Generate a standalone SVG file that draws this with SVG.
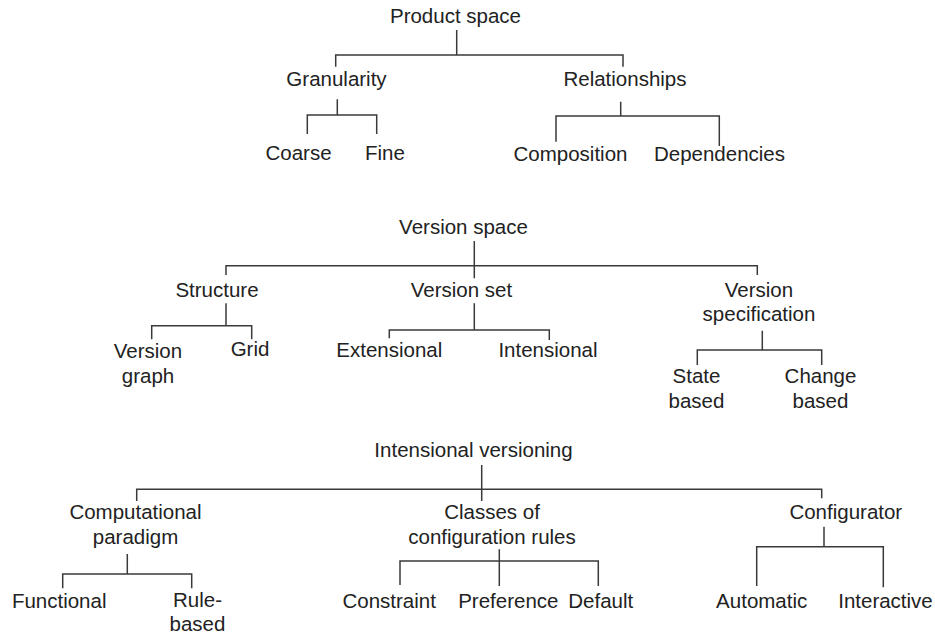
<svg xmlns="http://www.w3.org/2000/svg" width="935" height="634" viewBox="0 0 935 634">
  <style>
    text { font-family: "Liberation Sans", Arial, sans-serif; font-size: 20.5px; fill: #222; text-anchor: middle; }
    .link { fill: none; stroke: #3a3a3a; stroke-width: 1.5; }
  </style>
  <rect width="935" height="634" fill="#fff"/>

  <g id="connectors">
    <!-- Product space tree -->
    <path class="link" d="M456.7,30 V55 M335.7,66.7 V55 H623 V66.7"/>
    <path class="link" d="M337.3,99.3 V115 M307.3,134 V115 H376.7 V134"/>
    <path class="link" d="M620.7,101.7 V116 M556,141.7 V116 H719.3 V146"/>
    <!-- Version space tree -->
    <path class="link" d="M474.3,241 V278.3 M226,275 V265.7 H757.3 V275"/>
    <path class="link" d="M226,303.3 V325.7 M151.7,339.3 V325.7 H251.7 V339.3"/>
    <path class="link" d="M474.3,303.3 V330 M389.3,338.3 V330 H549.3 V340"/>
    <path class="link" d="M762.3,330.7 V350 M697.3,365 V350 H821.7 V365"/>
    <!-- Intensional versioning tree -->
    <path class="link" d="M481.7,465 V501 M136.7,501 V489.3 H821.7 V498.3"/>
    <path class="link" d="M127.3,554 V574 M62.7,588.3 V574 H191.7 V588.3"/>
    <path class="link" d="M499.3,549.3 V586 M400,585 V561 H598.3 V586"/>
    <path class="link" d="M824,526.7 V546.7 M756.7,586 V546.7 H883.3 V587.3"/>
  </g>

  <!-- Product space -->
  <g id="product-space"><text x="455.5" y="23">Product space</text></g>
  <g id="granularity"><text x="336.5" y="86">Granularity</text></g>
  <g id="relationships"><text x="625" y="86">Relationships</text></g>
  <g id="coarse"><text x="298.5" y="160">Coarse</text></g>
  <g id="fine"><text x="385" y="160">Fine</text></g>
  <g id="composition"><text x="570.5" y="160.5">Composition</text></g>
  <g id="dependencies"><text x="719.5" y="161">Dependencies</text></g>

  <!-- Version space -->
  <g id="version-space"><text x="463.5" y="234.3">Version space</text></g>
  <g id="structure"><text x="217" y="296.7">Structure</text></g>
  <g id="version-set"><text x="461.5" y="296.7">Version set</text></g>
  <g id="version-specification">
    <text x="759" y="296.7">Version</text>
    <text x="759" y="320.7">specification</text>
  </g>
  <g id="version-graph">
    <text x="148" y="358">Version</text>
    <text x="148" y="383">graph</text>
  </g>
  <g id="grid"><text x="250" y="356">Grid</text></g>
  <g id="extensional"><text x="389.3" y="356.7">Extensional</text></g>
  <g id="intensional"><text x="548" y="356.7">Intensional</text></g>
  <g id="state-based">
    <text x="696.5" y="382.7">State</text>
    <text x="696.5" y="407.7">based</text>
  </g>
  <g id="change-based">
    <text x="820.5" y="382.7">Change</text>
    <text x="820.5" y="407.7">based</text>
  </g>

  <!-- Intensional versioning -->
  <g id="intensional-versioning"><text x="473.5" y="456.7">Intensional versioning</text></g>
  <g id="computational-paradigm">
    <text x="135.5" y="519.3">Computational</text>
    <text x="135.5" y="544.3">paradigm</text>
  </g>
  <g id="classes-of-configuration-rules">
    <text x="492" y="519.3">Classes of</text>
    <text x="492" y="544.3">configuration rules</text>
  </g>
  <g id="configurator"><text x="845.8" y="519.3">Configurator</text></g>
  <g id="functional"><text x="59.2" y="608.3">Functional</text></g>
  <g id="rule-based">
    <text x="197.5" y="607">Rule-</text>
    <text x="197.5" y="631">based</text>
  </g>
  <g id="constraint"><text x="389.2" y="608.3">Constraint</text></g>
  <g id="preference"><text x="508.3" y="608.3">Preference</text></g>
  <g id="default"><text x="600.8" y="608.3">Default</text></g>
  <g id="automatic"><text x="761.7" y="608.3">Automatic</text></g>
  <g id="interactive"><text x="885.5" y="608.3">Interactive</text></g>
</svg>
